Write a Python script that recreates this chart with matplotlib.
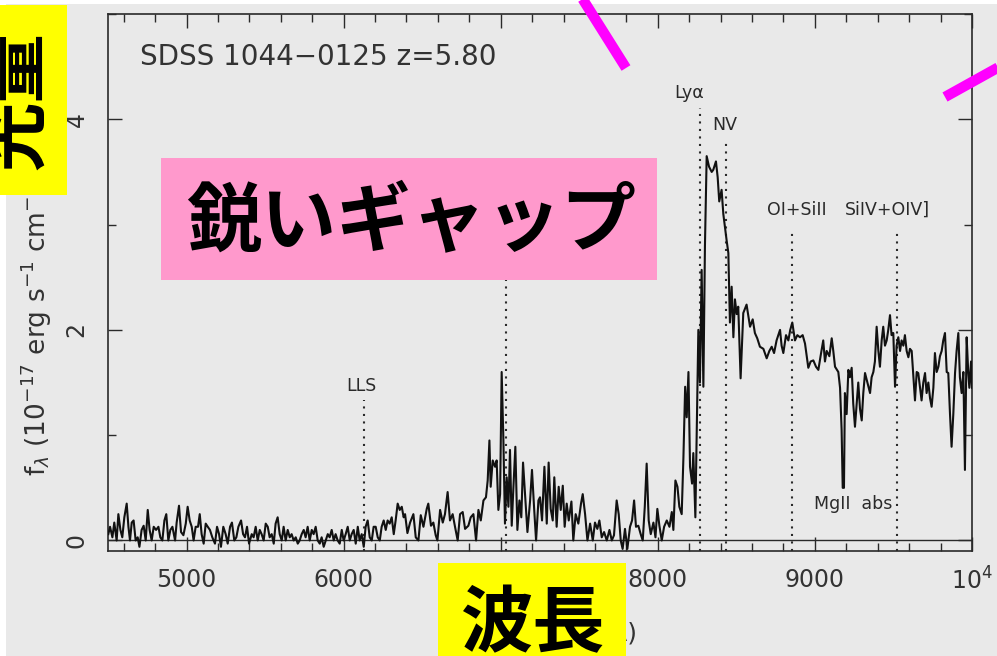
import matplotlib

matplotlib.use("Agg")
import matplotlib.pyplot as plt
from matplotlib.lines import Line2D
from matplotlib.patches import Rectangle
from matplotlib.ticker import FixedLocator, FixedFormatter, MultipleLocator

# observed wavelength (A) and flux f_lambda (1e-17 erg/s/cm2/A)
wave = [
    4502, 4513, 4528, 4540, 4555, 4566, 4579, 4591, 4604, 4619, 4630, 4640, 4651, 4663,
    4676, 4689, 4700, 4714, 4727, 4740, 4753, 4765, 4778, 4791, 4806, 4821, 4833, 4846,
    4859, 4871, 4884, 4897, 4910, 4927, 4937, 4952, 4965, 4980, 4995, 5007, 5020, 5033,
    5045, 5058, 5073, 5084, 5096, 5109, 5122, 5135, 5149, 5164, 5181, 5194, 5207, 5219,
    5234, 5249, 5262, 5277, 5289, 5304, 5317, 5330, 5347, 5360, 5372, 5385, 5398, 5415,
    5427, 5440, 5453, 5466, 5478, 5491, 5504, 5517, 5529, 5542, 5555, 5567, 5580, 5593,
    5606, 5618, 5631, 5644, 5657, 5669, 5682, 5695, 5708, 5720, 5733, 5746, 5758, 5771,
    5784, 5797, 5809, 5822, 5835, 5848, 5860, 5873, 5886, 5899, 5911, 5924, 5937, 5949,
    5962, 5975, 5988, 6000, 6013, 6026, 6039, 6051, 6064, 6077, 6090, 6102, 6115, 6128,
    6140, 6153, 6166, 6179, 6191, 6204, 6217, 6230, 6242, 6255, 6268, 6280, 6293, 6306,
    6319, 6331, 6344, 6357, 6370, 6382,
    6391, 6406, 6423, 6444, 6459, 6476, 6491, 6508, 6529, 6539, 6556, 6571, 6586, 6597,
    6614, 6631, 6645, 6662, 6677, 6694, 6709, 6726, 6741, 6758, 6773, 6794, 6809, 6826,
    6843, 6858, 6873, 6890, 6906, 6917, 6928, 6936, 6949, 6964, 6974, 6985, 6996, 7006,
    7017, 7027, 7038, 7049, 7059, 7070, 7080, 7093, 7106, 7119, 7131, 7142, 7155, 7170,
    7187, 7199, 7212, 7225, 7240, 7250, 7263, 7278, 7293, 7305, 7318, 7331, 7341, 7356,
    7369, 7382, 7395, 7407, 7420, 7433, 7450, 7462, 7477, 7494, 7511, 7522, 7537, 7552,
    7569, 7586, 7600, 7615, 7628, 7643, 7658, 7675, 7692, 7707, 7721, 7738, 7751, 7764,
    7776, 7791, 7806, 7823, 7836, 7849, 7861, 7876, 7891, 7904, 7917, 7929, 7942, 7955,
    7972, 7985, 7997, 8010, 8025, 8040, 8057, 8074, 8089, 8099, 8112, 8125, 8137, 8152,
    8163, 8174, 8184, 8195, 8205, 8218, 8226, 8239, 8248, 8258,
    8268, 8279, 8290, 8300, 8311, 8326, 8343, 8353, 8370, 8381, 8391, 8406, 8417, 8427,
    8438, 8449, 8459, 8470, 8481, 8491, 8502, 8512, 8527, 8544, 8565, 8587, 8604, 8618,
    8633, 8650, 8672, 8693, 8710, 8725, 8740, 8756, 8778, 8788, 8799, 8816, 8831, 8843,
    8856, 8873, 8888, 8905, 8922, 8937, 8958, 8973, 8990, 9007, 9022, 9036, 9053, 9064,
    9075, 9092, 9107, 9117, 9128, 9149, 9160, 9170, 9177, 9185, 9191, 9202, 9213, 9223,
    9234, 9244, 9255, 9266, 9276, 9287, 9298, 9308, 9319, 9334, 9351, 9361, 9372, 9382,
    9393, 9404, 9414, 9425, 9435, 9446, 9457, 9467, 9478, 9488, 9499, 9510, 9520, 9531,
    9542, 9552, 9563, 9573, 9584, 9595, 9605, 9616, 9627, 9637, 9648, 9658, 9669, 9679,
    9690, 9701, 9711, 9722, 9733, 9743, 9754, 9764, 9775, 9786, 9796, 9807, 9817, 9828,
    9839, 9849, 9860, 9870, 9881, 9892, 9902, 9913, 9923, 9934, 9945, 9955, 9966, 9976,
    9983, 9994, 10000,
]
flux = [
    0.06, 0.13, 0.03, 0.17, 0.00, 0.25, 0.10, 0.03, 0.22, 0.35, 0.13, 0.00, 0.17, 0.19,
    0.00, 0.03, -0.06, 0.10, 0.14, 0.00, 0.29, 0.10, 0.00, 0.13, 0.10, 0.13, 0.03, 0.00,
    0.19, 0.25, 0.00, 0.10, 0.13, 0.00, 0.17, 0.33, 0.08, 0.05, 0.16, 0.32, 0.19, 0.13,
    0.00, 0.13, 0.13, 0.25, 0.06, -0.03, 0.16, 0.13, 0.10, 0.03, -0.03, 0.13, 0.06, -0.06,
    0.13, 0.06, -0.03, 0.13, 0.17, 0.00, 0.03, 0.13, 0.19, 0.06, 0.03, 0.13, -0.03, 0.06,
    0.03, 0.13, 0.00, 0.10, 0.06, 0.00, 0.16, 0.13, 0.03, 0.06, -0.03, 0.16, 0.22, 0.06,
    0.00, 0.13, 0.00, 0.10, 0.03, 0.06, 0.00, 0.03, -0.03, 0.00, 0.06, 0.10, 0.03, 0.13,
    0.00, 0.10, 0.06, 0.13, 0.00, -0.03, 0.03, -0.06, 0.00, 0.06, 0.03, 0.10, 0.00, 0.06,
    0.00, -0.03, 0.10, 0.00, 0.06, 0.13, 0.00, 0.06, 0.10, -0.03, 0.13, 0.00, 0.06, -0.06,
    0.13, 0.19, 0.03, 0.00, 0.13, 0.13, 0.03, 0.00, 0.13, 0.19, 0.10, 0.19, 0.16, 0.22,
    0.06, 0.19, 0.35, 0.29, 0.32, 0.22,
    0.25, 0.07, 0.17, 0.25, 0.03, 0.00, 0.24, 0.13, 0.30, 0.35, 0.14, 0.17, 0.05, 0.00,
    0.29, 0.17, 0.25, 0.46, 0.19, 0.25, 0.13, 0.00, 0.25, 0.27, 0.11, 0.14, 0.22, 0.25,
    0.00, 0.29, 0.19, 0.38, 0.41, 0.57, 0.95, 0.51, 0.76, 0.70, 0.76, 0.29, 0.44, 1.60,
    0.95, 0.16, 0.60, 0.32, 0.86, 0.14, 0.48, 0.89, 0.10, 0.38, 0.22, 0.74, 0.44, 0.08,
    0.38, 0.67, 0.32, 0.00, 0.38, 0.41, 0.19, 0.70, 0.16, 0.74, 0.30, 0.19, 0.60, 0.13,
    0.51, 0.29, 0.52, 0.13, 0.35, 0.19, 0.37, 0.00, 0.25, 0.16, 0.35, 0.44, 0.25, 0.00,
    0.16, 0.00, 0.17, 0.11, 0.19, 0.03, 0.08, 0.00, 0.10, 0.00, 0.05, 0.38, 0.25, 0.00,
    -0.08, 0.11, -0.08, 0.13, 0.19, 0.38, 0.13, 0.14, 0.06, 0.00, 0.32, 0.73, 0.19, 0.06,
    0.17, 0.03, 0.30, 0.14, 0.00, 0.13, 0.19, 0.13, 0.27, 0.10, 0.57, 0.51, 0.32, 0.25,
    0.79, 1.46, 1.17, 1.60, 0.70, 0.54, 0.83, 0.22, 1.05, 2.00,
    1.50, 2.57, 1.46, 2.80, 3.65, 3.55, 3.50, 3.52, 3.60, 3.45, 3.22, 3.33, 3.10, 2.98,
    2.85, 2.73, 2.07, 2.41, 1.93, 2.29, 2.15, 2.22, 1.54, 2.16, 2.24, 2.03, 2.10, 1.97,
    1.92, 1.84, 1.82, 1.73, 1.80, 1.84, 1.78, 1.90, 2.00, 1.85, 1.78, 1.95, 1.90, 2.00,
    2.07, 1.90, 1.95, 1.93, 1.95, 1.87, 1.64, 1.70, 1.71, 1.65, 1.62, 1.75, 1.90, 1.70,
    1.80, 1.75, 1.92, 1.80, 1.65, 1.60, 1.45, 1.05, 0.50, 0.50, 1.40, 1.20, 1.62, 1.55,
    1.64, 1.30, 1.08, 1.30, 1.50, 1.25, 1.14, 1.40, 1.59, 1.50, 1.40, 1.55, 1.60, 1.70,
    2.03, 1.80, 1.65, 1.90, 2.03, 1.85, 1.90, 2.00, 2.14, 1.95, 1.97, 1.46, 1.85, 1.93,
    1.80, 1.90, 1.85, 1.95, 1.80, 1.74, 1.82, 1.80, 1.55, 1.33, 1.60, 1.59, 1.45, 1.33,
    1.50, 1.59, 1.40, 1.50, 1.35, 1.27, 1.45, 1.78, 1.60, 1.65, 1.75, 1.80, 1.90, 1.97,
    1.60, 1.59, 1.20, 0.89, 1.20, 1.59, 1.80, 1.97, 1.55, 1.40, 1.60, 0.67, 1.93, 1.60,
    1.45, 1.70, 1.45,
]

# identified features: line position, top of marker, label position
line_names = ["LLS", "", "Ly\u03b1", "NV", "OI+SiII", "SiIV+OIV]"]
line_wave = [6130, 7033, 8268, 8432, 8854, 9522]
line_top = [1.33, 3.60, 4.11, 3.81, 2.95, 2.95]
label_wave = [6110, 7033, 8199, 8428, 8886, 9459]
label_flux = [1.47, 3.75, 4.25, 3.95, 3.14, 3.14]

xticks = [5000, 6000, 7000, 8000, 9000, 10000]
xtick_labels = ["5000", "6000", "7000", "8000", "9000", "$10^4$"]
yticks = [0, 2, 4]

W, H = 997, 656


def fx(px):
    return px / W


def fy(py):
    return 1 - py / H


fig = plt.figure(figsize=(W / 100, H / 100), dpi=100)
fig.patch.set_facecolor("white")
fig.add_artist(Rectangle((fx(6), 0), 1, 1 - 4 / H, transform=fig.transFigure,
                         facecolor="#e9e9e9", edgecolor="none", zorder=-1))

ax = fig.add_axes([fx(108), fy(551), (972 - 108) / W, (551 - 14) / H])
ax.set_facecolor("none")

ink = "#2a2a2a"
ax.plot(wave, flux, color="#111111", lw=1.5, zorder=3)
ax.axhline(0, color=ink, lw=1.0, zorder=2)

for w, top in zip(line_wave, line_top):
    ax.plot([w, w], [-0.1, top], color=ink, lw=1.5, ls=(0, (1, 2.6)), zorder=2)
for name, lx, ly in zip(line_names, label_wave, label_flux):
    ax.text(lx, ly, name, ha="center", va="center", fontsize=12.5, color=ink)
ax.text(9243, 0.35, "MgII  abs", ha="center", va="center", fontsize=12.5, color=ink)

ax.text(0.037, 4.59, "SDSS 1044\u22120125 z=5.80", transform=ax.get_yaxis_transform(),
        ha="left", va="center", fontsize=20, color="#333333")

ax.set_xlim(4500, 10000)
ax.set_ylim(-0.1, 5.0)
ax.xaxis.set_major_locator(FixedLocator(xticks))
ax.xaxis.set_major_formatter(FixedFormatter(xtick_labels))
ax.xaxis.set_minor_locator(MultipleLocator(200))
ax.yaxis.set_major_locator(FixedLocator(yticks))
ax.yaxis.set_minor_locator(MultipleLocator(1))
ax.tick_params(which="both", direction="in", top=True, right=True, color=ink, width=1.0,
               labelcolor="#333333", labelsize=17)
ax.tick_params(which="major", length=10)
ax.tick_params(which="minor", length=5.5)
ax.tick_params(axis="x", pad=12)
ax.tick_params(axis="y", pad=14)
for lab in ax.get_yticklabels():
    lab.set_rotation(90)
    lab.set_va("center")
for s in ax.spines.values():
    s.set_color(ink)
    s.set_linewidth(1.2)

# axis titles, drawn from their lower end upwards / centred under the axis
fig.text(fx(53), fy(476), "f$_\\lambda$ (10$^{-17}$ erg s$^{-1}$ cm$^{-2}$ \u00c5$^{-1}$)",
         rotation=90, rotation_mode="anchor", ha="left", va="bottom",
         fontsize=19, color="#333333")
ax.set_xlabel("Wavelength (\u00c5)", fontsize=18, color="#333333")
ax.xaxis.set_label_coords(0.5, -0.125)

# slide annotations on top of the plot
jp = ["Noto Sans CJK JP", "DejaVu Sans"]


def box(x0, y0, x1, y1, color):
    fig.add_artist(Rectangle((fx(x0), fy(y1)), (x1 - x0) / W, (y1 - y0) / H,
                             transform=fig.transFigure, facecolor=color,
                             edgecolor="none", zorder=5))


box(0, 5, 67, 195, "#ffff00")
fig.text(fx(17), fy(100), "光量", rotation=90, ha="center", va="center",
         fontsize=50, family=jp, weight="bold", color="black", zorder=6)

box(438, 563, 626, 660, "#ffff00")
fig.text(fx(533), fy(625), "波長", ha="center", va="center",
         fontsize=52, family=jp, weight="bold", color="black", zorder=6)

box(161, 158, 657, 280, "#ff99cc")
fig.text(fx(411), fy(222), "鋭いギャップ", ha="center", va="center",
         fontsize=54, family=jp, weight="bold", color="black", zorder=6)

for (x0, y0), (x1, y1) in [((582, -2), (626, 68)), ((999, 67), (945, 97))]:
    fig.add_artist(Line2D([fx(x0), fx(x1)], [fy(y0), fy(y1)], transform=fig.transFigure,
                          color="#ff00ff", lw=7.5, solid_capstyle="butt", zorder=6))

fig.savefig("out.png", dpi=100)
